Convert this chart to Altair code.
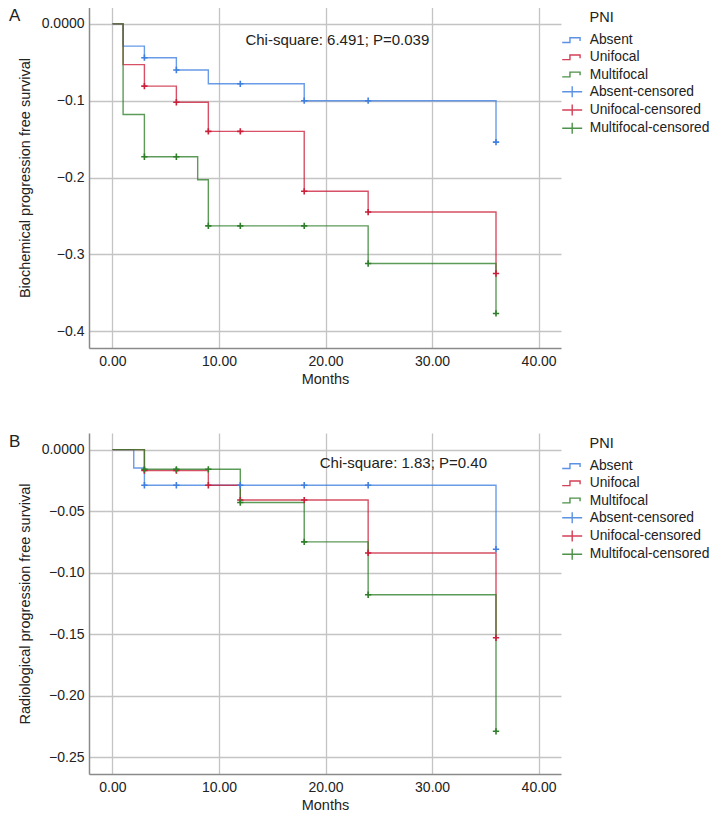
import altair as alt
import pandas as pd

# ---------------- data ----------------
labels = ["Absent", "Unifocal", "Multifocal",
          "Absent-censored", "Unifocal-censored", "Multifocal-censored"]

# Panel A: biochemical progression free survival
A_abs_t = [0, 1, 3, 6, 9, 18, 36]
A_abs_s = [0, -0.029, -0.044, -0.060, -0.078, -0.100, -0.154]
A_uni_t = [0, 1, 3, 6, 9, 18, 24, 36]
A_uni_s = [0, -0.053, -0.081, -0.102, -0.140, -0.218, -0.245, -0.325]
A_mul_t = [0, 1, 3, 8, 9, 24, 36]
A_mul_s = [0, -0.118, -0.173, -0.203, -0.263, -0.312, -0.377]
A_abs_ct = [3, 6, 12, 18, 24, 36]
A_abs_cs = [-0.044, -0.060, -0.078, -0.100, -0.100, -0.154]
A_uni_ct = [3, 6, 9, 12, 18, 24, 36]
A_uni_cs = [-0.081, -0.102, -0.140, -0.140, -0.218, -0.245, -0.325]
A_mul_ct = [3, 6, 9, 12, 18, 24, 36]
A_mul_cs = [-0.173, -0.173, -0.263, -0.263, -0.263, -0.312, -0.377]

# Panel B: radiological progression free survival
B_abs_t = [0, 2, 3, 36]
B_abs_s = [0, -0.015, -0.029, -0.081]
B_uni_t = [0, 3, 9, 12, 24, 36]
B_uni_s = [0, -0.017, -0.029, -0.041, -0.084, -0.153]
B_mul_t = [0, 3, 12, 18, 24, 36]
B_mul_s = [0, -0.016, -0.043, -0.075, -0.118, -0.229]
B_abs_ct = [3, 6, 12, 18, 24, 36]
B_abs_cs = [-0.029, -0.029, -0.029, -0.029, -0.029, -0.081]
B_uni_ct = [3, 6, 9, 12, 18, 24, 36]
B_uni_cs = [-0.017, -0.017, -0.029, -0.041, -0.041, -0.084, -0.153]
B_mul_ct = [3, 6, 9, 12, 18, 24, 36]
B_mul_cs = [-0.016, -0.016, -0.016, -0.043, -0.075, -0.118, -0.229]

A_yticks = [0, -0.1, -0.2, -0.3, -0.4]
B_yticks = [0, -0.05, -0.10, -0.15, -0.20, -0.25]
x_ticks = [0, 10, 20, 30, 40]

A_notes = ["A", "Chi-square: 6.491; P=0.039"]
A_notes_x = [-9.7, 12.48]
A_notes_y = [0.0100, -0.0216]
B_notes = ["B", "Chi-square: 1.83; P=0.40"]
B_notes_x = [-9.72, 19.46]
B_notes_y = [0.0064, -0.0111]
notes_fs = [17, 15]

# ---------------- styling ----------------
FONT = "Liberation Sans"
line_colors = ["#3f7fe0", "#cc1f3a", "#2f7f2a"]
colors6 = line_colors + line_colors
step_path = "M-1.33,0.3H-0.3V-0.33H1.05V0.1"
plus_path = "M-1.33,0H1.33M0,-0.73V0.73"
shapes6 = [step_path] * 3 + [plus_path] * 3

color_scale = alt.Scale(domain=labels, range=colors6)
line_stroke_scale = alt.Scale(domain=labels[:3], range=line_colors)
cens_stroke_scale = alt.Scale(domain=labels, range=colors6)

PW, PH = 472, 341


def make_df(ts, ss, names):
    rows = []
    for t_list, s_list, name in zip(ts, ss, names):
        for i, (t, s) in enumerate(zip(t_list, s_list)):
            rows.append({"t": t, "s": s, "label": name, "i": i})
    return pd.DataFrame(rows)


def panel(lines, cens, notes, nx, ny, yticks, ydom, ytitle, yexpr):
    xs = alt.Scale(domain=[-2.2, 42.1], nice=False, zero=False)
    ys = alt.Scale(domain=ydom, nice=False, zero=False)
    xaxis = alt.Axis(values=x_ticks, format=".2f", title="Months", grid=True)
    yaxis = alt.Axis(values=yticks, labelExpr=yexpr, title=ytitle, grid=True)
    X = alt.X("t:Q", scale=xs, axis=xaxis)
    Y = alt.Y("s:Q", scale=ys, axis=yaxis)

    line_df = make_df(lines[0], lines[1], labels[:3])
    cens_df = make_df(cens[0], cens[1], labels[3:])
    note_df = pd.DataFrame({"txt": notes, "t": nx, "s": ny, "fs": notes_fs})

    base_lines = alt.Chart(line_df).mark_line(
        interpolate="step-after", strokeWidth=1.4, opacity=0.78
    ).encode(
        x=X, y=Y,
        stroke=alt.Stroke("label:N", scale=line_stroke_scale, legend=None),
        order="i:Q",
    )

    cross = alt.Chart(cens_df).mark_point(
        shape="M-1,0H1M0,-1V1", size=40, filled=False, strokeWidth=1.6, opacity=1
    ).encode(
        x=X, y=Y,
        stroke=alt.Stroke("label:N", scale=cens_stroke_scale, legend=None),
    )

    leg = alt.Legend(
        title="\u200b\u2003\u2002\u2009\u200aPNI", orient="none",
        legendX=474.7, legendY=3.7,
        titleFontSize=14.5, titleFontWeight="normal", titleFont=FONT,
        titleColor="#222", titlePadding=6.5,
        labelFontSize=13.8, labelFont=FONT, labelColor="#222", labelOffset=9,
        symbolSize=225, symbolStrokeWidth=1.4, rowPadding=1.2, padding=0,
        symbolOpacity=0.85, labelLimit=300,
    )
    legend_layer = alt.Chart(cens_df).mark_point(
        filled=False, strokeWidth=1.4
    ).encode(
        x=X, y=Y,
        color=alt.Color("label:N", scale=color_scale, legend=leg),
        shape=alt.Shape("label:N", scale=alt.Scale(domain=labels, range=shapes6),
                        legend=leg),
    ).transform_filter("false")

    text = alt.Chart(note_df).mark_text(
        align="left", baseline="middle", font=FONT, color="#222"
    ).encode(
        x=X, y=Y,
        text="txt:N",
        size=alt.Size("fs:Q", scale=None, legend=None),
    )

    return alt.layer(base_lines, cross, legend_layer, text).properties(
        width=PW, height=PH)


yexpr_A = "datum.value == 0 ? '0.0000' : format(datum.value, '.1f')"
yexpr_B = "datum.value == 0 ? '0.0000' : format(datum.value, '.2f')"

pA = panel(([A_abs_t, A_uni_t, A_mul_t], [A_abs_s, A_uni_s, A_mul_s]),
           ([A_abs_ct, A_uni_ct, A_mul_ct], [A_abs_cs, A_uni_cs, A_mul_cs]),
           A_notes, A_notes_x, A_notes_y, A_yticks, [-0.422, 0.022],
           "Biochemical progression free survival", yexpr_A)
pB = panel(([B_abs_t, B_uni_t, B_mul_t], [B_abs_s, B_uni_s, B_mul_s]),
           ([B_abs_ct, B_uni_ct, B_mul_ct], [B_abs_cs, B_uni_cs, B_mul_cs]),
           B_notes, B_notes_x, B_notes_y, B_yticks, [-0.2637, 0.0135],
           "Radiological progression free survival", yexpr_B)

chart = alt.vconcat(pA, pB, spacing=46).resolve_scale(
    color="independent", shape="independent"
).properties(
    padding={"left": 0, "top": -1.0, "right": 0, "bottom": 0}
).configure_view(stroke=None).configure_axis(
    labelFont=FONT, titleFont=FONT, labelFontSize=14, titleFontSize=14.5,
    labelColor="#222", titleColor="#222", titleFontWeight="normal",
    ticks=False, tickSize=0, labelPadding=6, titlePadding=4,
    domainColor="#8a8a8a", domainWidth=1.5,
    gridColor="#c4c4c4", gridWidth=1.3,
).configure_axisY(labelPadding=5, titlePadding=9)

chart.save("out.html", embed_options={"renderer": "svg", "actions": False})
